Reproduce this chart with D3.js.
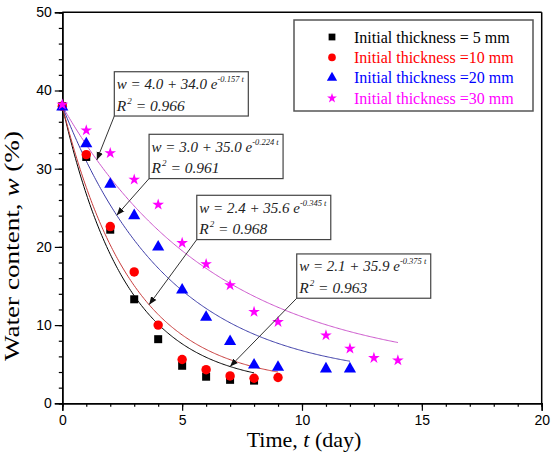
<!DOCTYPE html>
<html>
<head>
<meta charset="utf-8">
<script src="https://cdn.jsdelivr.net/npm/d3@7"></script>
<style>
  body { margin: 0; background: #fff; }
  .tick text { font-family: "Liberation Sans", Arial, sans-serif; font-size: 14px; }
</style>
</head>
<body>
<div id="chart"></div>
<script>
const seriesNames = ['Initial thickness = 5 mm', 'Initial thickness =10 mm', 'Initial thickness =20 mm', 'Initial thickness =30 mm'];
const t5 = [0, 1, 2, 3, 4, 5, 6, 7, 8];
const w5 = [38.0, 31.5, 22.2, 13.3, 8.2, 4.8, 3.4, 3.0, 2.9];
const t10 = [0, 1, 2, 3, 4, 5, 6, 7, 8, 9];
const w10 = [38.0, 31.8, 22.6, 16.8, 10.0, 5.6, 4.3, 3.5, 3.2, 3.3];
const t20 = [0, 1, 2, 3, 4, 5, 6, 7, 8, 9, 11, 12];
const w20 = [37.9, 33.2, 28.0, 24.0, 20.0, 14.5, 11.0, 7.9, 4.9, 4.6, 4.4, 4.4];
const t30 = [0, 1, 2, 3, 4, 5, 6, 7, 8, 9, 11, 12, 13, 14];
const w30 = [38.2, 34.9, 32.0, 28.6, 25.4, 20.5, 17.8, 15.1, 11.7, 10.4, 8.7, 7.0, 5.8, 5.5];

// fitted model w = a + b e^(-k t), as printed on the chart
const fitA = [2.1, 2.4, 3.0, 4.0];
const fitB = [35.9, 35.6, 35.0, 34.0];
const fitK = [0.375, 0.345, 0.224, 0.157];
const fitR2 = [0.963, 0.968, 0.961, 0.966];
const fitEnd = [8, 9, 12, 14];

const xTicks = [0, 5, 10, 15, 20];
const yTicks = [0, 10, 20, 30, 40, 50];

const markerColors = ['#000000', '#ff0000', '#0000ff', '#ff00ff'];
const lineColors = ['#000000', '#c83c3c', '#3c3ca8', '#cc55cc'];
const symbols = [d3.symbolSquare, d3.symbolCircle, d3.symbolTriangle, d3.symbolStar];
const symSize = [64, 70, 64, 42];
const legSize = [46, 46, 46, 30];

// annotation boxes: left/top of box and the point on the curve the arrow hits (data units)
const annoLayout = [
  { boxT: 9.78, boxW: 19.1, tipT: 7.0 },
  { boxT: 5.61, boxW: 26.6, tipT: 3.62 },
  { boxT: 3.62, boxW: 34.4, tipT: 2.27 },
  { boxT: 2.17, boxW: 42.4, tipT: 1.44 }
];

const width = 551, height = 461;
const margin = { left: 62.3, right: 9.3, top: 12.3, bottom: 57.7 };

const svg = d3.select('#chart').append('svg')
  .attr('width', width)
  .attr('height', height);

const x = d3.scaleLinear().domain([0, 20]).range([margin.left, width - margin.right]);
const y = d3.scaleLinear().domain([0, 50]).range([height - margin.bottom, margin.top]);

const defs = svg.append('defs');
defs.append('marker')
  .attr('id', 'arrow')
  .attr('viewBox', '0 0 10 10')
  .attr('refX', 10).attr('refY', 5)
  .attr('markerWidth', 8).attr('markerHeight', 8)
  .attr('markerUnits', 'userSpaceOnUse')
  .attr('orient', 'auto')
  .append('path')
  .attr('d', 'M0,1 L10,5 L0,9 Z')
  .attr('fill', '#111');

// frame top and right
svg.append('line')
  .attr('x1', x(0)).attr('x2', x(20)).attr('y1', y(50)).attr('y2', y(50))
  .attr('stroke', '#000').attr('stroke-width', 1.5);
svg.append('line')
  .attr('x1', x(20)).attr('x2', x(20)).attr('y1', y(50)).attr('y2', y(0))
  .attr('stroke', '#000').attr('stroke-width', 1.5);

// minor ticks
const xAxisG = svg.append('g').attr('transform', `translate(0,${y(0)})`);
xAxisG.call(d3.axisBottom(x).tickValues(d3.range(0, 21, 1)).tickSize(3.5).tickFormat(''));
const yAxisG = svg.append('g').attr('transform', `translate(${x(0)},0)`);
yAxisG.call(d3.axisLeft(y).tickValues(d3.range(0, 51, 2)).tickSize(3.5).tickFormat(''));

// major ticks + labels
const xMajor = svg.append('g').attr('transform', `translate(0,${y(0)})`)
  .call(d3.axisBottom(x).tickValues(xTicks).tickSize(7.5).tickPadding(4));
const yMajor = svg.append('g').attr('transform', `translate(${x(0)},0)`)
  .call(d3.axisLeft(y).tickValues(yTicks).tickSize(7.5).tickPadding(3));

svg.selectAll('.domain').attr('stroke-width', 1.5).attr('stroke', '#000');
svg.selectAll('.tick line').attr('stroke', '#000').attr('stroke-width', 1.2);
svg.selectAll('.tick text').attr('fill', '#000');

// axis titles
svg.append('text')
  .attr('x', (x(0) + x(20)) / 2 + 2)
  .attr('y', 447)
  .attr('text-anchor', 'middle')
  .attr('font-family', '"Liberation Serif", "Times New Roman", serif')
  .attr('font-size', 22)
  .call(t => {
    t.append('tspan').text('Time, ');
    t.append('tspan').attr('font-style', 'italic').text('t');
    t.append('tspan').text(' (day)');
  });

svg.append('text')
  .attr('transform', 'translate(19,246) rotate(-90)')
  .attr('text-anchor', 'middle')
  .attr('font-family', '"Liberation Serif", "Times New Roman", serif')
  .attr('font-size', 22)
  .attr('textLength', 230)
  .attr('lengthAdjust', 'spacingAndGlyphs')
  .call(t => {
    t.append('tspan').text('Water content, ');
    t.append('tspan').attr('font-style', 'italic').text('w');
    t.append('tspan').text(' (%)');
  });

// fitted curves
const seriesT = [t5, t10, t20, t30];
const seriesW = [w5, w10, w20, w30];
const line = d3.line().x(d => x(d[0])).y(d => y(d[1]));

fitA.forEach((a, i) => {
  const pts = d3.range(0, fitEnd[i] + 0.001, 0.05).map(t => [t, a + fitB[i] * Math.exp(-fitK[i] * t)]);
  svg.append('path')
    .attr('d', line(pts))
    .attr('fill', 'none')
    .attr('stroke', lineColors[i])
    .attr('stroke-width', 1);
});

// markers
seriesT.forEach((ts, i) => {
  svg.append('g').selectAll('path')
    .data(ts.map((t, j) => [t, seriesW[i][j]]))
    .join('path')
    .attr('transform', d => `translate(${x(d[0])},${y(d[1])})`)
    .attr('d', d3.symbol(symbols[i], symSize[i]))
    .attr('fill', markerColors[i]);
});

// annotation boxes with arrows
const boxW = 134, boxH = 44.3;
const serif = '"Liberation Serif", "Times New Roman", serif';
annoLayout.forEach((L, i) => {
  const bx = x(L.boxT), by = y(L.boxW);
  const tipX = x(L.tipT), tipY = y(fitA[i] + fitB[i] * Math.exp(-fitK[i] * L.tipT));
  svg.append('line')
    .attr('x1', bx).attr('y1', by + boxH)
    .attr('x2', tipX).attr('y2', tipY)
    .attr('stroke', '#333').attr('stroke-width', 1)
    .attr('marker-end', 'url(#arrow)');
  const g = svg.append('g').attr('transform', `translate(${bx},${by})`);
  g.append('rect')
    .attr('width', boxW).attr('height', boxH)
    .attr('fill', '#fff').attr('stroke', '#444').attr('stroke-width', 1.2);
  const t1 = g.append('text')
    .attr('x', 2.5).attr('y', 17.5)
    .attr('font-family', serif).attr('font-size', 15).attr('font-style', 'italic').attr('fill', '#222');
  t1.append('tspan').text(`w = ${fitA[i].toFixed(1)} + ${fitB[i].toFixed(1)} e`);
  t1.append('tspan').attr('font-size', 8.5).attr('dy', -7).text(`-${fitK[i].toFixed(3)} t`);
  const t2 = g.append('text')
    .attr('x', 2.5).attr('y', 39)
    .attr('font-family', serif).attr('font-size', 15.5).attr('font-style', 'italic').attr('fill', '#222');
  t2.append('tspan').text('R');
  t2.append('tspan').attr('font-size', 9).attr('dy', -7).attr('dx', 1).text('2');
  t2.append('tspan').attr('dy', 7).text(` = ${fitR2[i].toFixed(3)}`);
});

// legend
const legend = svg.append('g');
legend.append('rect')
  .attr('x', 294).attr('y', 20).attr('width', 239).attr('height', 91)
  .attr('fill', '#fff').attr('stroke', '#555').attr('stroke-width', 1.5);
seriesNames.forEach((name, i) => {
  const cy = 37 + i * 20.4;
  legend.append('path')
    .attr('transform', `translate(332,${cy})`)
    .attr('d', d3.symbol(symbols[i], legSize[i]))
    .attr('fill', markerColors[i]);
  legend.append('text')
    .attr('x', 354).attr('y', cy + 5.5)
    .attr('font-family', serif).attr('font-size', 16)
    .attr('fill', markerColors[i])
    .text(name);
});
</script>
</body>
</html>
